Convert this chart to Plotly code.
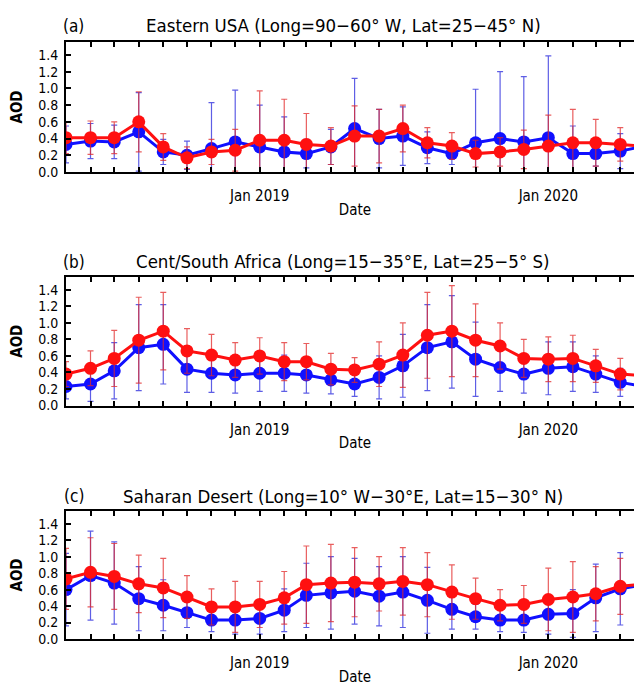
import plotly.graph_objects as go

months = ["2018-05-01", "2018-06-01", "2018-07-01", "2018-08-01", "2018-09-01",
          "2018-10-01", "2018-11-01", "2018-12-01", "2019-01-01", "2019-02-01",
          "2019-03-01", "2019-04-01", "2019-05-01", "2019-06-01", "2019-07-01",
          "2019-08-01", "2019-09-01", "2019-10-01", "2019-11-01", "2019-12-01",
          "2020-01-01", "2020-02-01", "2020-03-01", "2020-04-01", "2020-05-01"]
tick_text = ["", "", "", "", "", "", "", "", "Jan 2019", "", "", "", "", "", "", "",
             "", "", "", "", "Jan 2020", "", "", "", ""]
y_ticks = [0.0, 0.2, 0.4, 0.6, 0.8, 1.0, 1.2, 1.4]
y_tick_text = ["0.0", "0.2", "0.4", "0.6", "0.8", "1.0", "1.2", "1.4"]

# (a) Eastern USA
a_red = [0.41, 0.41, 0.41, 0.60, 0.30, 0.17, 0.24, 0.26, 0.38, 0.38, 0.33, 0.31, 0.43,
         0.43, 0.52, 0.35, 0.31, 0.22, 0.24, 0.27, 0.31, 0.35, 0.35, 0.33, 0.31]
a_blue = [0.33, 0.37, 0.36, 0.48, 0.24, 0.20, 0.28, 0.36, 0.30, 0.24, 0.22, 0.30, 0.52,
          0.40, 0.43, 0.29, 0.22, 0.35, 0.40, 0.36, 0.41, 0.22, 0.22, 0.25, 0.31]
a_red_sd = [0.19, 0.20, 0.19, 0.36, 0.16, 0.13, 0.15, 0.25, 0.59, 0.49, 0.37, 0.22, 0.36,
            0.32, 0.28, 0.18, 0.16, 0.16, 0.17, 0.23, 0.37, 0.40, 0.28, 0.20, 0.20]
a_blue_sd = [0.22, 0.21, 0.20, 0.47, 0.15, 0.17, 0.55, 0.62, 0.50, 0.42, 0.17, 0.21, 0.60,
             0.35, 0.35, 0.19, 0.13, 0.64, 0.80, 0.78, 0.98, 0.33, 0.15, 0.21, 0.28]

# (b) Cent/South Africa
b_red = [0.38, 0.45, 0.57, 0.79, 0.90, 0.66, 0.61, 0.55, 0.60, 0.53, 0.53, 0.44, 0.43,
         0.50, 0.61, 0.85, 0.90, 0.79, 0.72, 0.57, 0.56, 0.57, 0.48, 0.38, 0.36]
b_blue = [0.23, 0.26, 0.42, 0.70, 0.74, 0.44, 0.39, 0.37, 0.39, 0.39, 0.37, 0.31, 0.26,
          0.34, 0.48, 0.70, 0.77, 0.56, 0.46, 0.38, 0.45, 0.47, 0.38, 0.28, 0.23]
b_red_sd = [0.15, 0.21, 0.34, 0.52, 0.47, 0.27, 0.25, 0.21, 0.22, 0.23, 0.22, 0.19, 0.15,
            0.27, 0.39, 0.52, 0.55, 0.44, 0.28, 0.23, 0.27, 0.28, 0.20, 0.19, 0.17]
b_blue_sd = [0.15, 0.21, 0.34, 0.52, 0.48, 0.28, 0.23, 0.22, 0.22, 0.22, 0.22, 0.17, 0.15,
             0.26, 0.38, 0.52, 0.56, 0.45, 0.29, 0.23, 0.32, 0.30, 0.22, 0.17, 0.23]

# (c) Saharan Desert
c_red = [0.73, 0.81, 0.76, 0.67, 0.62, 0.51, 0.39, 0.39, 0.42, 0.50, 0.66, 0.68, 0.69,
         0.67, 0.70, 0.66, 0.57, 0.49, 0.41, 0.42, 0.48, 0.51, 0.55, 0.64, 0.67]
c_blue = [0.60, 0.77, 0.68, 0.49, 0.41, 0.32, 0.23, 0.23, 0.25, 0.35, 0.53, 0.56, 0.58,
          0.52, 0.57, 0.47, 0.36, 0.27, 0.23, 0.23, 0.30, 0.31, 0.50, 0.61, 0.66]
c_red_sd = [0.37, 0.42, 0.40, 0.35, 0.36, 0.26, 0.22, 0.31, 0.28, 0.32, 0.47, 0.47, 0.42,
            0.33, 0.41, 0.39, 0.33, 0.25, 0.19, 0.23, 0.38, 0.43, 0.33, 0.34, 0.30]
c_blue_sd = [0.44, 0.54, 0.50, 0.39, 0.31, 0.18, 0.14, 0.17, 0.19, 0.26, 0.39, 0.44, 0.40,
             0.36, 0.43, 0.40, 0.24, 0.15, 0.14, 0.15, 0.24, 0.29, 0.41, 0.44, 0.53]

titles = ["Eastern USA (Long=90\u221260\u00b0 W, Lat=25\u221245\u00b0 N)",
          "Cent/South Africa (Long=15\u221235\u00b0E, Lat=25\u22125\u00b0 S)",
          "Saharan Desert (Long=10\u00b0 W\u221230\u00b0E, Lat=15\u221230\u00b0 N)"]
panel_tags = ["(a)", "(b)", "(c)"]
panels = [(a_blue, a_blue_sd, a_red, a_red_sd),
          (b_blue, b_blue_sd, b_red, b_red_sd),
          (c_blue, c_blue_sd, c_red, c_red_sd)]

FONT = "DejaVu Sans Condensed"
W, H = 642, 684
L, R, T, B = 58, 4, 34, 53
plot_h = H - T - B
# pixel extents (top, bottom) of each panel's plotting area
panel_px = [(34, 164), (269, 397.5), (503, 631)]
title_px = [18, 254, 488]


def py(p):
    return (H - B - p) / plot_h


fig = go.Figure()
annotations = []
for i, (blue, blue_sd, red, red_sd) in enumerate(panels):
    n = "" if i == 0 else str(i + 1)
    xa, ya = "x" + n, "y" + n
    fig.add_trace(go.Scatter(
        x=months, y=blue, xaxis=xa, yaxis=ya, mode="lines+markers",
        line=dict(color="#1010ff", width=3),
        marker=dict(color="#1010ff", size=13),
        error_y=dict(type="data", array=blue_sd, color="rgba(40,40,220,0.75)",
                     thickness=1.2, width=3),
        showlegend=False))
    fig.add_trace(go.Scatter(
        x=months, y=red, xaxis=xa, yaxis=ya, mode="lines+markers",
        line=dict(color="#ff1010", width=3),
        marker=dict(color="#ff1010", size=13),
        error_y=dict(type="data", array=red_sd, color="rgba(225,40,40,0.75)",
                     thickness=1.2, width=3),
        showlegend=False))
    top, bot = panel_px[i]
    fig.update_layout(**{
        "xaxis" + n: dict(
            type="date", range=[months[0], months[-1]], tickmode="array",
            tickvals=months, ticktext=tick_text, ticks="inside", ticklen=5,
            tickwidth=1.5, tickcolor="black", mirror="ticks", showline=True,
            linecolor="black", linewidth=2, showgrid=False, zeroline=False,
            tickfont=dict(family=FONT, size=15, color="black"),
            ticklabelstandoff=9,
            title=dict(text="Date", font=dict(family=FONT, size=15, color="black"),
                       standoff=0),
            anchor=ya, domain=[0, 1]),
        "yaxis" + n: dict(
            range=[0, 1.555], tickmode="array", tickvals=y_ticks,
            ticktext=y_tick_text, ticks="inside", ticklen=5, tickwidth=1.5,
            tickcolor="black", mirror="ticks", showline=True, linecolor="black",
            linewidth=2, showgrid=False, zeroline=False,
            tickfont=dict(family=FONT + " Bold, " + FONT, size=14, color="black"),
            ticklabelstandoff=3,
            title=dict(text="<b>AOD</b>", font=dict(family=FONT, size=15, color="black"),
                       standoff=15),
            anchor=xa, domain=[py(bot), py(top)]),
    })
    annotations.append(dict(
        text=titles[i], xref="paper", yref="paper", x=(336 - L) / (W - L - R),
        y=py(title_px[i]), xanchor="center", yanchor="middle", showarrow=False,
        font=dict(family=FONT, size=18.5, color="black")))
    annotations.append(dict(
        text=panel_tags[i], xref="paper", yref="paper", x=(66 - L) / (W - L - R),
        y=py(title_px[i]), xanchor="center", yanchor="middle", showarrow=False,
        font=dict(family=FONT, size=17, color="black")))

fig.update_layout(
    width=W, height=H, margin=dict(l=L, r=R, t=T, b=B),
    paper_bgcolor="white", plot_bgcolor="white",
    annotations=annotations)

fig.write_html("out.html")
